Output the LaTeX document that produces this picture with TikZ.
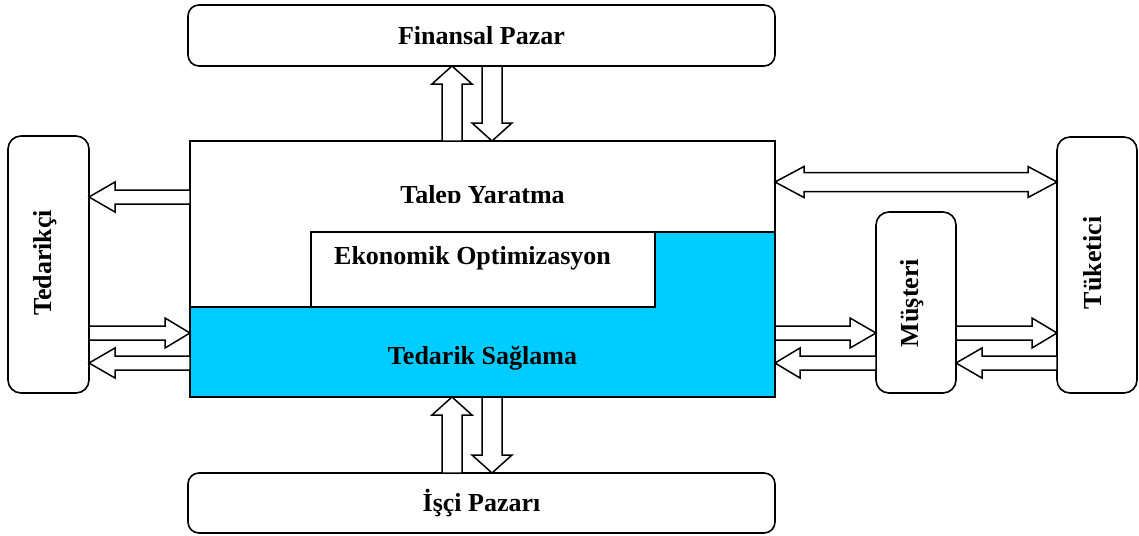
\documentclass[tikz,border=0pt]{standalone}
\usepackage{fontspec}
\setmainfont{Liberation Serif}
\usetikzlibrary{calc}

% horizontal block arrow: start, tip, head length, shaft half width, head half width
\newcommand\harr[5]{%
  \draw[blk] let \p1=#1, \p2=#2, \n1={(\x2-\x1)/abs(\x2-\x1)} in
    (\x1,\y1+#4) -- (\x2-\n1*#3,\y1+#4) -- (\x2-\n1*#3,\y1+#5) -- (\x2,\y1)
    -- (\x2-\n1*#3,\y1-#5) -- (\x2-\n1*#3,\y1-#4) -- (\x1,\y1-#4) -- cycle;}
% vertical block arrow
\newcommand\varr[5]{%
  \draw[blk] let \p1=#1, \p2=#2, \n1={(\y2-\y1)/abs(\y2-\y1)} in
    (\x1+#4,\y1) -- (\x1+#4,\y2-\n1*#3) -- (\x1+#5,\y2-\n1*#3) -- (\x1,\y2)
    -- (\x1-#5,\y2-\n1*#3) -- (\x1-#4,\y2-\n1*#3) -- (\x1-#4,\y1) -- cycle;}
% horizontal double-headed block arrow
\newcommand\dharr[5]{%
  \draw[blk] let \p1=#1, \p2=#2, \n1={(\x2-\x1)/abs(\x2-\x1)} in
    (\x1,\y1) -- (\x1+\n1*#3,\y1+#5) -- (\x1+\n1*#3,\y1+#4) -- (\x2-\n1*#3,\y1+#4)
    -- (\x2-\n1*#3,\y1+#5) -- (\x2,\y1) -- (\x2-\n1*#3,\y1-#5) -- (\x2-\n1*#3,\y1-#4)
    -- (\x1+\n1*#3,\y1-#4) -- (\x1+\n1*#3,\y1-#5) -- cycle;}

\definecolor{supply}{RGB}{0,204,255}

\begin{document}
\begin{tikzpicture}[x=1pt,y=-1pt,
  every node/.style={outer sep=0pt,inner sep=0pt,
    font=\fontsize{26}{30}\selectfont\bfseries},
  market/.style={draw,line width=1.6pt,rounded corners=11pt,fill=white},
  blk/.style={draw,line width=1.5pt,fill=white,line join=miter},
  plain/.style={draw,line width=1.8pt}]
\useasboundingbox (0,0) rectangle (1139,535);

% rows used by the horizontal arrows
\coordinate (rT) at (0,197);
\coordinate (rD) at (0,182);
\coordinate (rIn) at (0,333);
\coordinate (rOut) at (0,363);
\coordinate (cUp) at (452,0);
\coordinate (cDn) at (492,0);

% outer boxes
\node[market,minimum width=587pt,minimum height=61pt] (fin) at (481.5,35.5) {Finansal Pazar};
\node[market,minimum width=587pt,minimum height=60pt] (isci) at (481.5,503) {İşçi Pazarı};
\node[market,minimum width=81pt,minimum height=257pt,rounded corners=13pt] (ted) at (48.5,264.5) {};
\node[rotate=90] at (45,263) {Tedarikçi};
\node[market,minimum width=80pt,minimum height=181pt,rounded corners=13pt] (mus) at (916,302.5) {};
\node[rotate=90] at (912,303) {Müşteri};
\node[market,minimum width=80pt,minimum height=256pt,rounded corners=13pt] (tuk) at (1097,265) {};
\node[rotate=90] at (1093,263) {Tüketici};

% central firm block
\node[minimum width=585pt,minimum height=256pt,fill=white] (main) at (482.5,269) {};
\fill[supply] (190,307) -- (655,307) -- (655,232) -- (775,232) -- (775,397) -- (190,397) -- cycle;
\draw[plain] (190,307) -- (655,307) -- (655,232) -- (775,232);
\node[plain,minimum width=344pt,minimum height=75pt,fill=white] (eko) at (483,269.5) {};
\node at (472.5,258) {Ekonomik Optimizasyon};
\node at (482.5,358) {Tedarik Sağlama};
\begin{scope}
  \clip (190,141) rectangle (775,202);
  \node[anchor=base] (tal) at (482.5,203.5) {Talep Yaratma};
\end{scope}
\draw[plain] (main.north west) rectangle (main.south east);

% block arrows
\varr{(main.north -| cUp)}{(fin.south -| cUp)}{18pt}{10pt}{20pt}
\varr{(fin.south -| cDn)}{(main.north -| cDn)}{18pt}{10pt}{20pt}
\varr{(isci.north -| cUp)}{(main.south -| cUp)}{18pt}{10pt}{20pt}
\varr{(main.south -| cDn)}{(isci.north -| cDn)}{18pt}{10pt}{20pt}

\harr{(main.west |- rT)}{(ted.east |- rT)}{26pt}{7pt}{15pt}
\harr{(ted.east |- rIn)}{(main.west |- rIn)}{25pt}{7pt}{15pt}
\harr{(main.west |- rOut)}{(ted.east |- rOut)}{26pt}{7pt}{15pt}

\dharr{(main.east |- rD)}{(tuk.west |- rD)}{29pt}{9.5pt}{15.5pt}

\harr{(main.east |- rIn)}{(mus.west |- rIn)}{26pt}{7pt}{15pt}
\harr{(mus.west |- rOut)}{(main.east |- rOut)}{25pt}{7pt}{15pt}
\harr{(mus.east |- rIn)}{(tuk.west |- rIn)}{25pt}{7pt}{15pt}
\harr{(tuk.west |- rOut)}{(mus.east |- rOut)}{26pt}{7pt}{15pt}
\end{tikzpicture}
\end{document}
